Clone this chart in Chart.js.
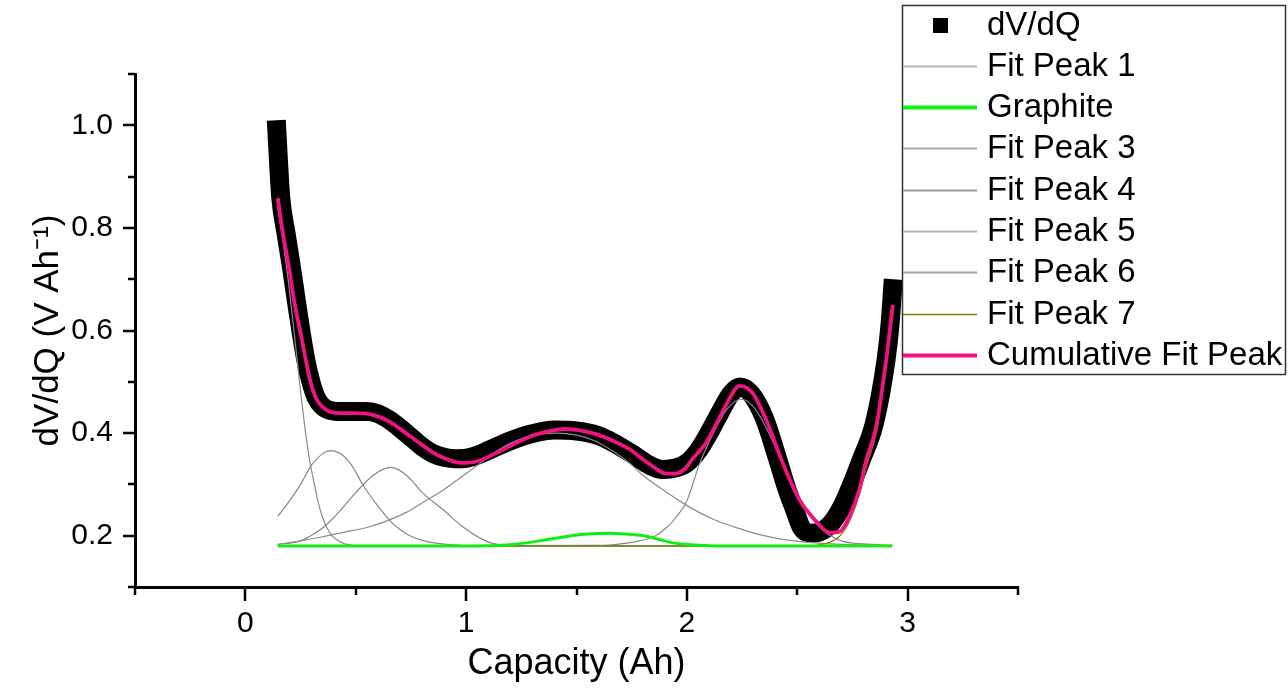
<!DOCTYPE html>
<html>
<head>
<meta charset="utf-8">
<script src="https://cdn.jsdelivr.net/npm/chart.js@4.4.1/dist/chart.umd.min.js"></script>
<style>
  html, body { margin: 0; padding: 0; background: #fff; }
  #wrap { width: 1288px; height: 688px; }
</style>
</head>
<body>
<div id="wrap"><canvas id="dvdqChart" width="1288" height="688"></canvas></div>
<script>
// measured dV/dQ (centre of the marker band)
const dvdqCap = [0.14, 0.15, 0.16, 0.184, 0.208, 0.23, 0.253, 0.275, 0.298, 0.32, 0.35, 0.40, 0.45, 0.50, 0.55, 0.60, 0.651, 0.70, 0.75, 0.802, 0.85, 0.90, 0.95, 1.00, 1.05, 1.10, 1.20, 1.30, 1.40, 1.50, 1.60, 1.664, 1.75, 1.82, 1.89, 1.95, 2.00, 2.05, 2.10, 2.15, 2.20, 2.24, 2.29, 2.35, 2.411, 2.45, 2.488, 2.52, 2.56, 2.60, 2.65, 2.70, 2.73, 2.79, 2.85, 2.903, 2.92, 2.935];
const dvdqVal = [1.01, 0.93, 0.86, 0.79, 0.725, 0.66, 0.595, 0.54, 0.498, 0.47, 0.452, 0.443, 0.442, 0.442, 0.442, 0.438, 0.426, 0.41, 0.392, 0.373, 0.36, 0.353, 0.350, 0.351, 0.357, 0.366, 0.385, 0.399, 0.406, 0.404, 0.395, 0.382, 0.36, 0.34, 0.329, 0.332, 0.342, 0.365, 0.40, 0.44, 0.477, 0.490, 0.477, 0.43, 0.35, 0.295, 0.251, 0.215, 0.205, 0.207, 0.222, 0.255, 0.283, 0.348, 0.42, 0.545, 0.61, 0.70];

const peak1Cap = [0.147, 0.17, 0.195, 0.22, 0.245, 0.273, 0.29, 0.311, 0.33, 0.348, 0.37, 0.394, 0.43, 0.469, 0.55, 2.93];
const peak1Val = [0.84, 0.775, 0.695, 0.60, 0.50, 0.40, 0.35, 0.303, 0.265, 0.238, 0.215, 0.199, 0.188, 0.182, 0.180, 0.180];

const graphiteCap = [0.147, 1.0, 1.18, 1.27, 1.36, 1.45, 1.51, 1.58, 1.648, 1.73, 1.815, 1.88, 1.936, 2.04, 2.15, 2.93];
const graphiteVal = [0.180, 0.180, 0.182, 0.186, 0.192, 0.198, 0.202, 0.204, 0.205, 0.203, 0.199, 0.192, 0.186, 0.182, 0.180, 0.180];

const peak3Cap = [0.147, 0.20, 0.25, 0.30, 0.35, 0.386, 0.43, 0.48, 0.537, 0.60, 0.651, 0.70, 0.75, 0.802, 0.87, 0.95, 1.05, 2.93];
const peak3Val = [0.238, 0.268, 0.30, 0.338, 0.360, 0.366, 0.360, 0.338, 0.296, 0.258, 0.231, 0.212, 0.199, 0.191, 0.185, 0.182, 0.180, 0.180];

const peak4Cap = [0.147, 0.25, 0.30, 0.364, 0.43, 0.50, 0.58, 0.658, 0.73, 0.802, 0.90, 0.983, 1.104, 1.20, 1.30, 2.93];
const peak4Val = [0.183, 0.19, 0.201, 0.22, 0.249, 0.284, 0.318, 0.333, 0.318, 0.284, 0.249, 0.218, 0.187, 0.181, 0.180, 0.180];

const peak5Cap = [0.147, 0.25, 0.35, 0.45, 0.55, 0.635, 0.727, 0.817, 0.90, 0.983, 1.06, 1.135, 1.21, 1.286, 1.35, 1.407, 1.50, 1.588, 1.66, 1.739, 1.80, 1.89, 1.981, 2.057, 2.13, 2.208, 2.32, 2.434, 2.55, 2.65, 2.80, 2.93];
const peak5Val = [0.183, 0.19, 0.198, 0.207, 0.216, 0.228, 0.245, 0.268, 0.29, 0.316, 0.34, 0.364, 0.382, 0.394, 0.399, 0.400, 0.396, 0.384, 0.366, 0.342, 0.318, 0.29, 0.264, 0.245, 0.23, 0.218, 0.203, 0.193, 0.187, 0.184, 0.182, 0.181];

const peak6Cap = [0.147, 1.60, 1.70, 1.785, 1.85, 1.906, 1.95, 2.00, 2.057, 2.10, 2.132, 2.18, 2.246, 2.30, 2.36, 2.43, 2.50, 2.56, 2.62, 2.70, 2.80, 2.93];
const peak6Val = [0.180, 0.181, 0.184, 0.19, 0.198, 0.215, 0.235, 0.268, 0.34, 0.382, 0.41, 0.446, 0.466, 0.452, 0.41, 0.344, 0.28, 0.237, 0.209, 0.19, 0.184, 0.181];

const peak7Cap = [0.147, 2.55, 2.60, 2.65, 2.69, 2.73, 2.78, 2.81, 2.86, 2.90, 2.933];
const peak7Val = [0.180, 0.180, 0.182, 0.188, 0.198, 0.222, 0.278, 0.33, 0.405, 0.525, 0.635];

const cumCap = [0.147, 0.17, 0.197, 0.22, 0.25, 0.275, 0.296, 0.32, 0.347, 0.38, 0.424, 0.50, 0.574, 0.651, 0.727, 0.80, 0.85, 0.908, 0.96, 1.00, 1.059, 1.13, 1.21, 1.30, 1.40, 1.452, 1.52, 1.588, 1.66, 1.739, 1.80, 1.845, 1.906, 1.95, 1.99, 2.026, 2.087, 2.13, 2.178, 2.238, 2.298, 2.359, 2.434, 2.51, 2.586, 2.646, 2.692, 2.729, 2.782, 2.813, 2.858, 2.903, 2.933];
const cumVal = [0.858, 0.79, 0.725, 0.66, 0.595, 0.54, 0.498, 0.468, 0.452, 0.442, 0.439, 0.439, 0.436, 0.423, 0.400, 0.377, 0.362, 0.350, 0.343, 0.342, 0.346, 0.360, 0.377, 0.395, 0.406, 0.408, 0.405, 0.398, 0.386, 0.369, 0.349, 0.335, 0.321, 0.321, 0.33, 0.35, 0.381, 0.415, 0.455, 0.492, 0.478, 0.426, 0.342, 0.270, 0.228, 0.206, 0.208, 0.231, 0.290, 0.348, 0.413, 0.543, 0.650];

const xMajorTicks = [0, 1, 2, 3];
const yMajorTicks = [0.2, 0.4, 0.6, 0.8, 1.0];

const FONT = "'Liberation Sans', Arial, sans-serif";

function pts(xs, ys) {
  return xs.map((x, i) => ({ x: x, y: ys[i] }));
}

function peakSet(label, xs, ys, color, order) {
  return {
    label: label,
    data: pts(xs, ys),
    borderColor: color,
    borderWidth: 1.2,
    pointRadius: 0,
    cubicInterpolationMode: 'monotone',
    fill: false,
    order: order
  };
}

// tick marks, major and minor, drawn from the scale ticks
const tickMarks = {
  id: 'tickMarks',
  afterDraw(chart) {
    const ctx = chart.ctx;
    const xs = chart.scales.x, ys = chart.scales.y;
    const { left, bottom } = chart.chartArea;
    ctx.save();
    ctx.strokeStyle = '#000';
    ctx.lineWidth = 2.5;
    ctx.beginPath();
    xs.ticks.forEach(t => {
      const px = Math.round(xs.getPixelForValue(t.value));
      const major = xMajorTicks.some(v => Math.abs(v - t.value) < 1e-6);
      ctx.moveTo(px, bottom);
      ctx.lineTo(px, bottom + (major ? 14 : 8));
    });
    ys.ticks.forEach(t => {
      const py = Math.round(ys.getPixelForValue(t.value));
      const major = yMajorTicks.some(v => Math.abs(v - t.value) < 1e-6);
      ctx.moveTo(left, py);
      ctx.lineTo(left - (major ? 12 : 7), py);
    });
    ctx.stroke();
    ctx.restore();
  }
};

// boxed legend at the top right, like the Origin export
const boxLegend = {
  id: 'boxLegend',
  afterDraw(chart) {
    const ctx = chart.ctx;
    ctx.save();
    ctx.strokeStyle = '#333';
    ctx.lineWidth = 1.5;
    ctx.strokeRect(902.5, 5.5, 383, 369);
    ctx.font = '33px ' + FONT;
    ctx.textBaseline = 'middle';
    ctx.textAlign = 'left';
    chart.data.datasets.forEach((ds, i) => {
      const y = 24.5 + i * 41.3;
      if (ds.legendMarker === 'square') {
        ctx.fillStyle = '#000';
        ctx.fillRect(933, Math.round(y - 7), 15, 15);
      } else {
        ctx.strokeStyle = ds.legendColor || ds.borderColor;
        ctx.lineWidth = ds.legendWidth || ds.borderWidth;
        ctx.beginPath();
        ctx.moveTo(903, Math.round(y) + 0.5);
        ctx.lineTo(977, Math.round(y) + 0.5);
        ctx.stroke();
      }
      ctx.fillStyle = '#000';
      ctx.fillText(ds.label, 987, y + 1);
    });
    ctx.restore();
  }
};

new Chart(document.getElementById('dvdqChart'), {
  type: 'line',
  data: {
    datasets: [
      {
        label: 'dV/dQ',
        data: pts(dvdqCap, dvdqVal),
        borderColor: '#000',
        borderWidth: 19,
        borderCapStyle: 'butt',
        borderJoinStyle: 'round',
        pointRadius: 0,
        cubicInterpolationMode: 'monotone',
        fill: false,
        legendMarker: 'square',
        order: 10
      },
      Object.assign(peakSet('Fit Peak 1', peak1Cap, peak1Val, '#8a8a8a', 5), { legendColor: '#b4b4b4', legendWidth: 2 }),
      {
        label: 'Graphite',
        data: pts(graphiteCap, graphiteVal),
        borderColor: '#10f010',
        borderWidth: 3,
        pointRadius: 0,
        cubicInterpolationMode: 'monotone',
        fill: false,
        legendWidth: 4,
        order: 2
      },
      Object.assign(peakSet('Fit Peak 3', peak3Cap, peak3Val, '#888888', 5), { legendColor: '#a8a8a8', legendWidth: 2 }),
      Object.assign(peakSet('Fit Peak 4', peak4Cap, peak4Val, '#858585', 5), { legendColor: '#9a9a9a', legendWidth: 2 }),
      Object.assign(peakSet('Fit Peak 5', peak5Cap, peak5Val, '#8c8c8c', 5), { legendColor: '#b4b4b4', legendWidth: 2 }),
      Object.assign(peakSet('Fit Peak 6', peak6Cap, peak6Val, '#888888', 5), { legendColor: '#a4a4a4', legendWidth: 2 }),
      Object.assign(peakSet('Fit Peak 7', peak7Cap, peak7Val, '#808000', 4), { legendWidth: 1.5 }),
      {
        label: 'Cumulative Fit Peak',
        data: pts(cumCap, cumVal),
        borderColor: '#f0127f',
        borderWidth: 3.8,
        pointRadius: 0,
        cubicInterpolationMode: 'monotone',
        fill: false,
        legendWidth: 4,
        order: 0
      }
    ]
  },
  options: {
    responsive: false,
    animation: false,
    devicePixelRatio: 1,
    layout: { padding: { top: 74, right: 270, bottom: 0, left: 0 } },
    plugins: {
      legend: { display: false },
      tooltip: { enabled: false }
    },
    scales: {
      x: {
        type: 'linear',
        min: -0.5,
        max: 3.5,
        afterFit: s => { s.height = 101; },
        grid: { display: false, drawTicks: false },
        border: { display: true, width: 3, color: '#000' },
        ticks: {
          stepSize: 0.5,
          autoSkip: false,
          maxRotation: 0,
          padding: 19,
          color: '#000',
          font: { family: FONT, size: 30 },
          callback: v => xMajorTicks.some(m => Math.abs(m - v) < 1e-6) ? String(Math.round(v)) : ''
        },
        title: {
          display: true,
          text: 'Capacity (Ah)',
          color: '#000',
          font: { family: FONT, size: 36 },
          padding: { top: 0, bottom: 2 }
        }
      },
      y: {
        type: 'linear',
        min: 0.1,
        max: 1.1,
        afterFit: s => { s.width = 135; },
        grid: { display: false, drawTicks: false },
        border: { display: true, width: 3, color: '#000' },
        ticks: {
          stepSize: 0.1,
          autoSkip: false,
          padding: 22,
          color: '#000',
          font: { family: FONT, size: 30 },
          callback: v => {
            const m = yMajorTicks.find(t => Math.abs(t - v) < 1e-6);
            return m === undefined ? '' : m.toFixed(1);
          }
        },
        title: {
          display: true,
          text: 'dV/dQ (V Ah\u207B\u00B9)',
          color: '#000',
          font: { family: FONT, size: 35 },
          padding: { top: 27, bottom: 0 }
        }
      }
    }
  },
  plugins: [tickMarks, boxLegend]
});
</script>
</body>
</html>
